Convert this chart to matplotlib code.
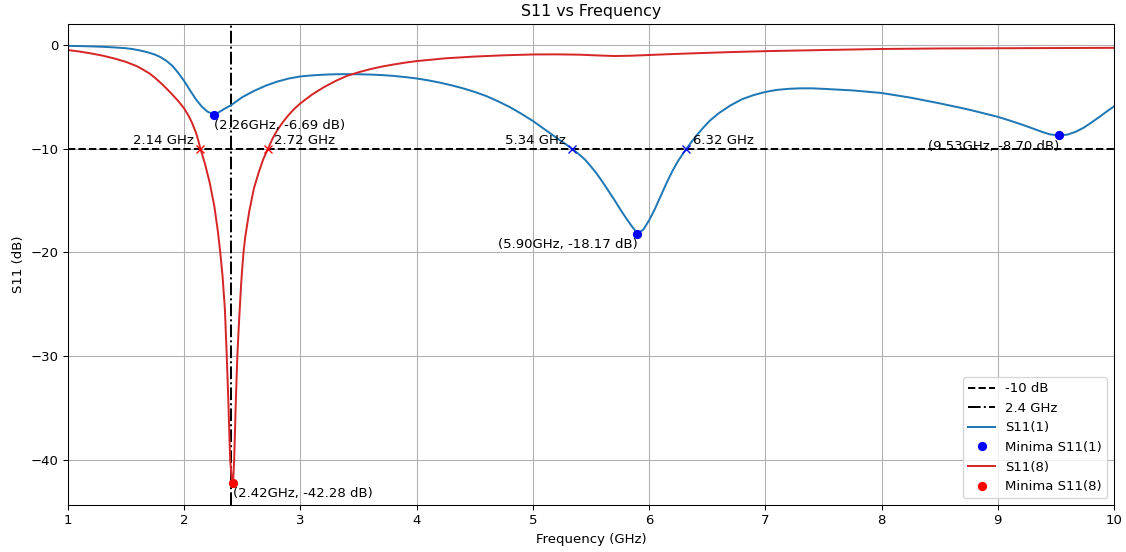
import matplotlib
matplotlib.use("Agg")
import matplotlib.pyplot as plt

# S11(1) 曲线 (GHz, dB)
freq1 = [1.0, 1.1, 1.2, 1.3, 1.4, 1.5, 1.55, 1.6, 1.65, 1.7, 1.75, 1.8, 1.85,
         1.9, 1.95, 2.0, 2.05, 2.1, 2.15, 2.2, 2.26, 2.3, 2.35, 2.4, 2.45, 2.5,
         2.55, 2.6, 2.65, 2.7, 2.75, 2.8, 2.9, 3.0, 3.1, 3.2, 3.3, 3.4, 3.5,
         3.6, 3.7, 3.8, 3.9, 4.0, 4.1, 4.2, 4.3, 4.4, 4.5, 4.6, 4.7, 4.8, 4.9,
         5.0, 5.1, 5.2, 5.27, 5.34, 5.4, 5.45, 5.5, 5.55, 5.6, 5.65, 5.7, 5.75,
         5.8, 5.85, 5.9, 5.95, 6.0, 6.05, 6.1, 6.15, 6.2, 6.25, 6.32, 6.37,
         6.42, 6.47, 6.52, 6.6, 6.7, 6.8, 6.9, 7.0, 7.1, 7.2, 7.3, 7.4, 7.5,
         7.75, 8.0, 8.25, 8.5, 8.75, 9.0, 9.1, 9.2, 9.3, 9.38, 9.45, 9.53, 9.6,
         9.67, 9.74, 9.8, 9.87, 9.93, 10.0]
s11_1 = [-0.05, -0.07, -0.1, -0.14, -0.2, -0.28, -0.35, -0.45, -0.57, -0.72,
         -0.9, -1.16, -1.52, -2.0, -2.68, -3.45, -4.35, -5.2, -5.9, -6.4, -6.69,
         -6.45, -6.1, -5.8, -5.4, -5.0, -4.7, -4.4, -4.15, -3.9, -3.7, -3.5,
         -3.2, -3.0, -2.9, -2.83, -2.79, -2.78, -2.79, -2.82, -2.87, -2.95,
         -3.06, -3.2, -3.38, -3.6, -3.86, -4.15, -4.5, -4.9, -5.4, -5.95, -6.6,
         -7.3, -8.1, -8.9, -9.45, -10.0, -10.55, -11.05, -11.7, -12.4, -13.2,
         -14.05, -14.9, -15.8, -16.65, -17.45, -18.17, -17.8, -16.9, -15.8,
         -14.55, -13.3, -12.15, -11.15, -10.0, -9.25, -8.55, -7.9, -7.3, -6.55,
         -5.8, -5.2, -4.8, -4.5, -4.3, -4.2, -4.15, -4.15, -4.2, -4.35, -4.6,
         -5.05, -5.6, -6.2, -6.9, -7.25, -7.62, -8.02, -8.35, -8.6, -8.70,
         -8.62, -8.35, -7.95, -7.5, -6.95, -6.45, -5.9]

# S11(8) 曲线
freq8 = [1.0, 1.1, 1.2, 1.3, 1.4, 1.5, 1.6, 1.7, 1.75, 1.8, 1.85, 1.9, 1.95,
         2.0, 2.04, 2.07, 2.1, 2.12, 2.14, 2.18, 2.22, 2.26, 2.29, 2.31, 2.33,
         2.35, 2.366, 2.38, 2.395, 2.41, 2.42, 2.43, 2.445, 2.457, 2.47, 2.49,
         2.5, 2.51, 2.525, 2.56, 2.6, 2.64, 2.68, 2.72, 2.76, 2.8, 2.85, 2.9,
         2.95, 3.0, 3.1, 3.2, 3.3, 3.4, 3.5, 3.6, 3.7, 3.8, 3.9, 4.0, 4.25, 4.5,
         4.75, 5.0, 5.2, 5.4, 5.55, 5.7, 5.85, 6.0, 6.2, 6.4, 6.7, 7.0, 7.5,
         8.0, 8.5, 9.0, 9.5, 10.0]
s11_8 = [-0.45, -0.6, -0.78, -1.0, -1.27, -1.6, -2.05, -2.7, -3.15, -3.65, -4.2,
         -4.78, -5.4, -6.1, -6.85, -7.55, -8.4, -9.15, -10.0, -11.5, -13.3,
         -15.6, -18.0, -20.0, -22.3, -25.5, -30.0, -34.5, -40.0, -42.0, -42.28,
         -40.0, -34.0, -30.0, -27.0, -23.0, -21.4, -20.0, -18.5, -16.0, -13.8,
         -12.3, -11.0, -10.0, -9.0, -8.2, -7.4, -6.7, -6.1, -5.6, -4.75, -4.05,
         -3.45, -2.95, -2.6, -2.3, -2.05, -1.85, -1.67, -1.52, -1.25, -1.08,
         -0.96, -0.88, -0.87, -0.9, -0.97, -1.03, -1.0, -0.93, -0.84, -0.76,
         -0.65, -0.56, -0.45, -0.35, -0.3, -0.28, -0.26, -0.24]

# 极小值点
min1_f = [2.26, 5.90, 9.53]
min1_db = [-6.69, -18.17, -8.70]
min8_f = [2.42]
min8_db = [-42.28]

# -10 dB 交点
cross1 = [5.34, 6.32]
cross8 = [2.14, 2.72]

fig = plt.figure(figsize=(1126 / 95, 552 / 95), dpi=95)
ax = fig.add_axes([0.0604, 0.0851, 0.9289, 0.8714])

ax.axhline(-10, color='k', linestyle='--', label='-10 dB')
ax.axvline(2.4, color='k', linestyle='-.', label='2.4 GHz')

ax.plot(freq1, s11_1, color='#1f77b4', label='S11(1)')
ax.plot(min1_f, min1_db, 'bo', label='Minima S11(1)')
ax.plot(freq8, s11_8, color='#d62728', label='S11(8)')
ax.plot(min8_f, min8_db, 'ro', label='Minima S11(8)')

# 标注极小值
for f, d in list(zip(min1_f, min1_db)) + list(zip(min8_f, min8_db)):
    ha = 'left' if f < 5 else 'right'
    ax.annotate(f'({f:.2f}GHz, {d:.2f} dB)', (f, d), xytext=(0, -8),
                textcoords='offset points', ha=ha, va='center', fontsize=10)

# 标注交点
for crosses, mk in ((cross8, 'rx'), (cross1, 'bx')):
    ax.plot(crosses, [-10] * len(crosses), mk)
    ax.annotate(f'{crosses[0]:.2f} GHz', (crosses[0], -10), xytext=(-5, 1.5),
                textcoords='offset points', ha='right', va='bottom', fontsize=10)
    ax.annotate(f'{crosses[1]:.2f} GHz', (crosses[1], -10), xytext=(5, 1.5),
                textcoords='offset points', ha='left', va='bottom', fontsize=10)

ax.set_xlim(1, 10)
ax.set_title('S11 vs Frequency')
ax.set_xlabel('Frequency (GHz)')
ax.set_ylabel('S11 (dB)')
ax.grid(True)
ax.legend(loc='lower right')

fig.savefig('out.png', dpi=95)
